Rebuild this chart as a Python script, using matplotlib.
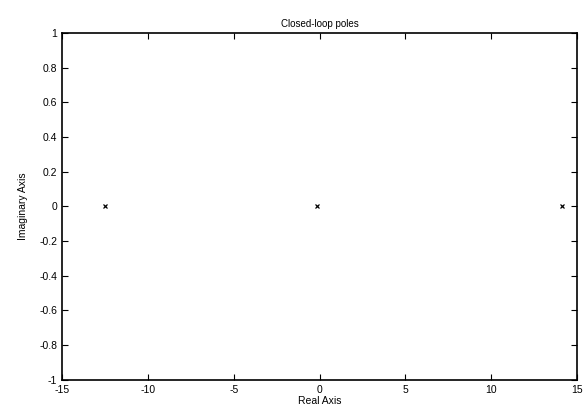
import matplotlib
matplotlib.use("Agg")
import matplotlib.pyplot as plt
import numpy as np

# closed-loop poles
pole_re = [-12.5, -0.15, 14.1]
pole_im = [0.0, 0.0, 0.0]

xticks = [-15, -10, -5, 0, 5, 10, 15]
yticks = np.round(np.arange(-1, 1.01, 0.2), 1)

plt.rcParams["font.family"] = ["Liberation Sans", "DejaVu Sans"]
plt.rcParams["axes.unicode_minus"] = False

fig = plt.figure(figsize=(5.87, 4.12), dpi=100)
ax = fig.add_axes([0.106, 0.078, 0.877, 0.842])

ax.plot(pole_re, pole_im, "x", color="k", markersize=3.5, markeredgewidth=0.9)

ax.set_xlim(-15, 15)
ax.set_ylim(-1, 1)
ax.set_xticks(xticks)
ax.set_yticks(yticks)
ax.set_yticklabels([("%g" % v) if v != 0 else "0" for v in yticks])
ax.tick_params(direction="in", top=True, right=True, labelsize=7.5, length=4, width=0.8)
for s in ax.spines.values():
    s.set_linewidth(1.2)

ax.set_title("Closed-loop poles", fontsize=7, pad=4)
ax.set_xlabel("Real Axis", fontsize=7.5, labelpad=1)
ax.set_ylabel("Imaginary Axis", fontsize=7.5, labelpad=8)

fig.savefig("out.png", dpi=100)
